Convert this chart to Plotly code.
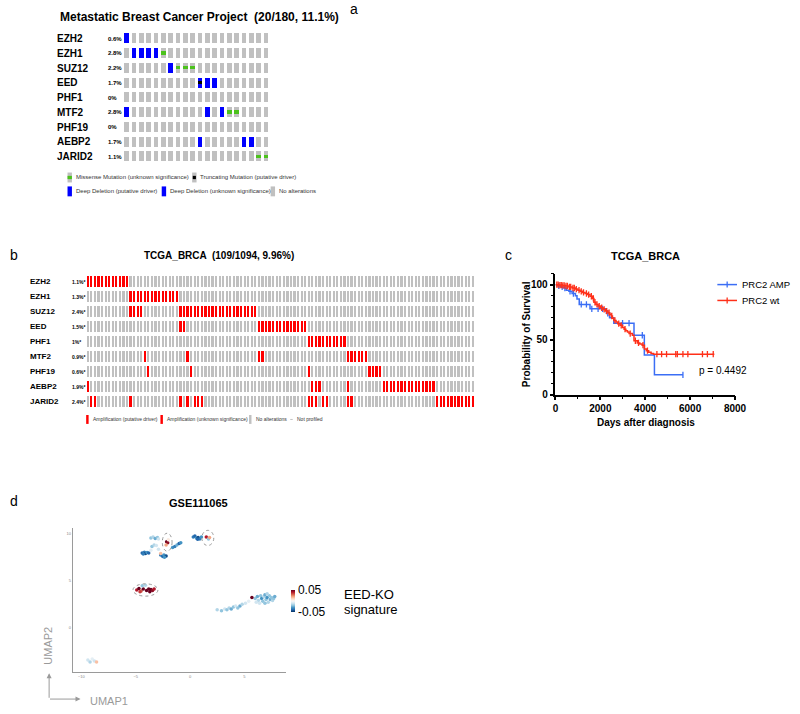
import plotly.graph_objects as go
import numpy as np

W, H = 800, 714
FONT = "Arial, Liberation Sans, Helvetica, sans-serif"


def fx(p):
    return p / W


def fy(p):
    return 1 - p / H


# ---------------- Panel a : Metastatic Breast Cancer Project ----------------
a_genes = ["EZH2", "EZH1", "SUZ12", "EED", "PHF1", "MTF2", "PHF19", "AEBP2", "JARID2"]
a_pct = ["0.6%", "2.8%", "2.2%", "1.7%", "0%", "2.8%", "0%", "1.7%", "1.1%"]
a_n_samples = 20
a_deep_deletion = {"EZH2": [0], "EZH1": [1, 2, 3, 4], "SUZ12": [6], "EED": [10, 11, 12],
                   "MTF2": [0, 11, 13], "AEBP2": [10, 16, 17]}
a_missense = {"EZH1": [5], "SUZ12": [7, 8, 9], "MTF2": [14, 15], "JARID2": [18, 19]}
a_truncating = {"EED": [10]}

# ---------------- Panel b : TCGA_BRCA oncoprint ----------------
b_genes = ["EZH2", "EZH1", "SUZ12", "EED", "PHF1", "MTF2", "PHF19", "AEBP2", "JARID2"]
b_pct = ["1.1%*", "1.3%*", "2.4%*", "1.5%*", "1%*", "0.9%*", "0.6%*", "1.9%*", "2.4%*"]
b_n_samples = 109
b_amplification = {
    "EZH2": [0, 1, 2, 3, 4, 5, 6, 7, 8, 9, 10, 11],
    "EZH1": [12, 13, 14, 15, 16, 17, 18, 19, 20, 21, 22, 23, 24, 25],
    "SUZ12": [12, 13, 14, 15, 26, 27, 28, 29, 30, 31, 32, 33, 34, 35, 36, 37, 38, 39, 40,
              41, 42, 43, 44, 45, 46, 47],
    "EED": [26, 27, 48, 49, 50, 51, 52, 53, 54, 55, 56, 57, 58, 59, 60, 61],
    "PHF1": [62, 63, 64, 65, 66, 67, 68, 69, 70, 71, 72],
    "MTF2": [16, 28, 48, 49, 73, 74, 75, 76, 77, 78],
    "PHF19": [17, 29, 62, 79, 80, 81, 82],
    "AEBP2": [0, 63, 64, 65, 73, 83, 84, 85, 86, 87, 88, 89, 90, 91, 92, 93, 94, 95, 96, 97],
    "JARID2": [1, 2, 12, 26, 28, 30, 31, 32, 62, 63, 64, 66, 67, 73, 74, 98, 99, 100, 101,
               102, 103, 104, 105, 106, 107, 108],
}

# ---------------- Panel c : Kaplan-Meier ----------------
km_groups = ["PRC2 AMP", "PRC2 wt"]
km_amp_time = [0, 90, 230, 380, 480, 600, 740, 890, 960, 1060, 1540, 2270, 2410, 2600,
               3500, 3960, 4410, 5680]
km_amp_surv = [100, 99, 98, 97, 95, 94, 92, 90, 87, 82, 78, 74, 70, 65, 54, 36, 18, 18]
km_amp_censor = [150, 300, 420, 650, 800, 1150, 1380, 1620, 1900, 2100, 2330, 2990, 3280,
                 3870, 5680]

km_wt_time = [0, 150, 300, 450, 600, 750, 900, 1000, 1100, 1200, 1320, 1440, 1540, 1655,
              1713, 1800, 1900, 2000, 2120, 2230, 2340, 2420, 2483, 2540, 2600, 2700, 2773,
              2880, 2990, 3060, 3136, 3210, 3280, 3427, 3500, 3645, 3760, 3862, 3964, 4050,
              4153, 4260, 4370, 7080]
km_wt_surv = [100, 99.6, 99.3, 98.8, 98, 97, 96, 95, 94, 93, 92, 91, 89.5, 87.5, 84, 82,
              80.5, 79, 77.5, 76, 74.5, 73, 71.5, 69.5, 67.5, 66, 64.5, 63, 61, 59.5, 58, 57,
              55.5, 54, 49, 47, 46, 45, 41.5, 40, 38.5, 37.5, 36.8, 36.8]
km_wt_censor = [60, 120, 200, 260, 330, 390, 470, 530, 620, 680, 780, 840, 930, 1050, 1150,
                1250, 1380, 1480, 1600, 1690, 1760, 1850, 1950, 2060, 2170, 2280, 2390, 2510,
                2650, 2820, 2930, 3100, 3330, 3560, 3700, 3900, 4100, 4520, 4730, 4950, 5360,
                5430, 5680, 5900, 6550, 6770, 7030]
km_p_text = "p = 0.4492"

# ---------------- Panel d : UMAP ----------------
umap_x = [-3.6, -3.4, -3.2, -3.0, -2.9, -3.5, -3.3, -3.1, -4.4, -4.2, -4.1, -3.95, -3.8, -4.3,
          -2.7, -2.5, -2.4, -2.2, -2.35, -2.15, -2.05, -2.2, -2.0, -1.6, -1.4, -1.2, -1.0,
          -0.85, -2.9, -2.7, -3.6,
          0.3, 0.45, 0.6, 0.75, 0.9, 1.05, 0.7, 1.5, 1.7, 1.8,
          -4.9, -4.7, -4.5, -4.3, -4.0, -3.8, -3.6, -3.45, -3.3, -4.4, -4.1, -3.7, -4.6,
          2.5, 2.9, 3.2, 3.4, 3.6, 3.8, 4.0, 4.2, 4.4, 4.6, 4.8, 5.1, 5.4,
          6.0, 6.2, 6.3, 6.5, 6.6, 6.7, 6.8, 6.9, 7.0, 7.1, 7.2, 7.3, 7.4, 7.5, 7.6, 7.7, 7.8,
          6.4, 6.9, 7.1, 6.1, 5.7,
          -9.4, -9.2, -9.0, -8.8, -8.6]
umap_y = [9.5, 9.6, 9.45, 9.55, 9.4, 8.6, 8.75, 8.7, 7.9, 8.0, 7.85, 7.95, 7.9, 7.8,
          7.7, 7.55, 7.7, 7.6, 7.45, 9.1, 9.0, 8.75, 9.3, 8.5, 8.6, 8.75, 8.9,
          9.0, 8.3, 7.85, 8.2,
          9.6, 9.7, 9.5, 9.55, 9.4, 9.6, 9.35, 9.6, 9.4, 9.55,
          4.0, 4.15, 3.9, 4.1, 3.95, 4.1, 4.05, 3.95, 4.1, 4.45, 4.5, 3.8, 3.8,
          1.9, 1.8, 2.0, 1.9, 2.1, 2.0, 2.2, 2.3, 2.1, 2.3, 2.5, 2.6, 2.8,
          3.1, 3.3, 2.9, 3.4, 3.1, 2.8, 3.3, 3.5, 3.0, 3.2, 2.7, 3.4, 3.0, 3.2, 2.9, 3.1, 3.3,
          2.6, 2.6, 3.6, 2.7, 3.2,
          -3.4, -3.6, -3.3, -3.5, -3.6]
umap_sig = [-0.02, -0.015, -0.025, -0.02, -0.01, -0.02, -0.015, -0.01, -0.04, -0.035, -0.045,
            -0.03, -0.04, -0.035, -0.035, -0.04, -0.03, -0.045, -0.03, 0.05, 0.045, 0.02,
            0.005, -0.03, -0.035, -0.025, -0.04, -0.03, -0.01, 0.015, -0.005,
            -0.035, -0.04, -0.03, -0.045, -0.035, -0.03, -0.04, 0.04, -0.02, 0.02,
            0.04, 0.05, 0.03, 0.05, 0.05, 0.05, 0.05, 0.045, 0.04, -0.02, -0.015, 0.05, 0.035,
            -0.015, -0.02, -0.01, -0.02, -0.015, -0.025, -0.02, -0.01, -0.02, -0.025, -0.015,
            -0.01, -0.005,
            -0.02, -0.025, -0.015, -0.02, -0.03, -0.02, -0.015, -0.025, -0.02, -0.03, -0.015,
            -0.02, -0.025, -0.02, -0.015, -0.02, -0.025, -0.01, -0.02, -0.015, -0.01, 0.05,
            -0.01, -0.015, -0.005, -0.01, 0.015]
# highlighted groups: (center x, center y, radius x, radius y)
umap_rings = [(-2.1, 9.05, 0.45, 0.95), (1.64, 9.5, 0.55, 0.8), (-4.1, 4.0, 1.15, 0.65)]

# colours
GREY = "#c0c0c0"
BLUE_DEL = "#0000ff"
GREEN_MIS = "#4cc21c"
RED_AMP = "#ff0000"
KM_BLUE = "#3b6ef5"
KM_RED = "#ff3019"

fig = go.Figure()


def onco_bars(genes, cols_by_gene, xa, ya, w, h, color):
    xs, bases = [], []
    for g, cols in cols_by_gene.items():
        r = genes.index(g)
        for c in cols:
            xs.append(c)
            bases.append(r - h / 2)
    return go.Bar(x=xs, y=[h] * len(xs), base=bases, width=w,
                  marker=dict(color=color, line=dict(width=0)),
                  xaxis=xa, yaxis=ya, showlegend=False, hoverinfo="skip")


# panel a bars
a_all = {g: list(range(a_n_samples)) for g in a_genes}
fig.add_trace(onco_bars(a_genes, a_all, "x", "y", 0.63, 0.67, GREY))
fig.add_trace(onco_bars(a_genes, a_deep_deletion, "x", "y", 0.63, 0.67, BLUE_DEL))
fig.add_trace(onco_bars(a_genes, a_missense, "x", "y", 0.63, 0.22, GREEN_MIS))
fig.add_trace(onco_bars(a_genes, a_truncating, "x", "y", 0.45, 0.22, "#000000"))

# panel b bars
b_all = {g: list(range(b_n_samples)) for g in b_genes}
fig.add_trace(onco_bars(b_genes, b_all, "x2", "y2", 0.62, 0.68, GREY))
fig.add_trace(onco_bars(b_genes, b_amplification, "x2", "y2", 0.62, 0.68, RED_AMP))


# panel c KM curves
def surv_at(times, survs, t):
    idx = np.searchsorted(np.array(times), t, side="right") - 1
    return survs[max(idx, 0)]


km_series = [(km_amp_time, km_amp_surv, km_amp_censor, KM_BLUE),
             (km_wt_time, km_wt_surv, km_wt_censor, KM_RED)]
for tt, ss, cc, col in km_series:
    fig.add_trace(go.Scatter(x=tt, y=ss, mode="lines", line=dict(color=col, width=1.5, shape="hv"),
                             xaxis="x3", yaxis="y3", showlegend=False, hoverinfo="skip"))
    fig.add_trace(go.Scatter(x=cc, y=[surv_at(tt, ss, t) for t in cc], mode="markers",
                             marker=dict(symbol="line-ns-open", size=4.5, color=col,
                                         line=dict(color=col, width=1.3)),
                             xaxis="x3", yaxis="y3", showlegend=False, hoverinfo="skip"))

# panel d UMAP
fig.add_trace(go.Scatter(
    x=umap_x, y=umap_y, mode="markers", xaxis="x4", yaxis="y4", showlegend=False,
    hoverinfo="skip",
    marker=dict(size=3.5, color=umap_sig, colorscale="RdBu_r", cmin=-0.05, cmax=0.05,
                line=dict(width=0),
                colorbar=dict(thickness=4, len=22, lenmode="pixels", x=fx(293), xanchor="left",
                              y=fy(606), yanchor="middle", tickvals=[-0.05, 0.05],
                              ticktext=["-0.05", "0.05"], ticks="", outlinewidth=0,
                              xpad=0, ypad=0, tickfont=dict(size=12, family=FONT, color="black"))),
))

shapes = []
for cx, cy, rx, ry in umap_rings:
    shapes.append(dict(type="circle", xref="x4", yref="y4", x0=cx - rx, x1=cx + rx,
                       y0=cy - ry, y1=cy + ry, line=dict(color="#999999", width=1, dash="dot")))


def icon(xc, yc, w, h, color):
    shapes.append(dict(type="rect", xref="paper", yref="paper", x0=fx(xc - w / 2), x1=fx(xc + w / 2),
                       y0=fy(yc + h / 2), y1=fy(yc - h / 2), fillcolor=color, line=dict(width=0)))


def seg(x0, y0, x1, y1, color, width):
    shapes.append(dict(type="line", xref="paper", yref="paper", x0=fx(x0), x1=fx(x1),
                       y0=fy(y0), y1=fy(y1), line=dict(color=color, width=width)))


# panel a legend icons
icon(68, 179, 4.5, 10, GREY)
icon(68, 179, 4.5, 3.3, GREEN_MIS)
icon(195, 179, 4.5, 10, GREY)
icon(195, 179, 3.2, 3.3, "#000000")
icon(68, 193, 4.5, 10, BLUE_DEL)
icon(164, 193, 4.5, 10, BLUE_DEL)
icon(275, 193, 4.5, 10, GREY)
# panel b legend icons
icon(86, 423, 2.5, 9, RED_AMP)
icon(161.7, 423, 2.5, 9, RED_AMP)
icon(252, 423, 2.5, 9, GREY)
icon(294, 423, 2.5, 1, GREY)
# panel c legend glyphs
for ly, col in [(287, KM_BLUE), (303, KM_RED)]:
    seg(728, ly, 748, ly, col, 1.5)
    seg(738, ly - 3, 738, ly + 3, col, 1.3)

annotations = []


def ann(text, x, y, size, xanchor="left", color="black", angle=0, xref="paper", yref="paper",
        yanchor="middle"):
    annotations.append(dict(text=text, x=x, y=y, xref=xref, yref=yref, showarrow=False,
                            xanchor=xanchor, yanchor=yanchor, textangle=angle,
                            font=dict(size=size, color=color, family=FONT)))


# panel labels & titles
ann("a", fx(352), fy(9), 14)
ann("<b>Metastatic Breast Cancer Project &nbsp;(20/180, 11.1%)</b>", fx(200), fy(17), 12, "center")
ann("b", fx(5), fy(257), 14)
ann("<b>TCGA_BRCA &nbsp;(109/1094, 9.96%)</b>", fx(220), fy(258), 10, "center")
ann("c", fx(510), fy(257), 14)
ann("<b>TCGA_BRCA</b>", fx(655), fy(258), 11, "center")
ann("d", fx(5), fy(505), 14)
ann("<b>GSE111065</b>", fx(199), fy(507), 11, "center")

for i, g in enumerate(a_genes):
    ann("<b>%s</b>" % g, fx(53), i, 10, yref="y")
    ann("<b>%s</b>" % a_pct[i], fx(105), i, 6, yref="y")
for i, g in enumerate(b_genes):
    ann("<b>%s</b>" % g, fx(25), i, 8, yref="y2")
    ann("<b>%s</b>" % b_pct[i], fx(68), i, 5, yref="y2")

LG = "#333333"
ann("Missense Mutation (unknown significance)", fx(72.5), fy(179), 6, color=LG)
ann("Truncating Mutation (putative driver)", fx(199), fy(179), 6, color=LG)
ann("Deep Deletion (putative driver)", fx(72.5), fy(193), 6, color=LG)
ann("Deep Deletion (unknown significance)", fx(168.5), fy(193), 6, color=LG)
ann("No alterations", fx(279), fy(193), 6, color=LG)
ann("Amplification (putative driver)", fx(89.5), fy(423), 5, color=LG)
ann("Amplification (unknown significance)", fx(165), fy(423), 5, color=LG)
ann("No alterations", fx(255.5), fy(423), 5, color=LG)
ann("Not profiled", fx(298), fy(423), 5, color=LG)

# panel c texts
ann(km_groups[0], fx(751), fy(287), 9.5)
ann(km_groups[1], fx(751), fy(303), 9.5)
ann("<b>Probability of Survival</b>", fx(533), fy(337), 10, "center", angle=-90)
ann("<b>Days after diagnosis</b>", fx(655), fy(426), 10, "center")
ann(km_p_text, 6300, 21.6, 10, xref="x3", yref="y3")

# panel d texts
ann("EED-KO", fx(345), fy(600), 13)
ann("signature", fx(345), fy(615), 13)
ann("UMAP1", fx(87), fy(707), 11, color="#9a9a9a")
ann("UMAP2", fx(45), fy(651), 11, "center", color="#9a9a9a", angle=-90)
annotations.append(dict(x=fx(47), y=fy(679), ax=0, ay=26, xref="paper", yref="paper",
                        showarrow=True, arrowhead=2, arrowsize=1, arrowwidth=1,
                        arrowcolor="#9a9a9a", text=""))
annotations.append(dict(x=fx(79), y=fy(705), ax=-32, ay=0, xref="paper", yref="paper",
                        showarrow=True, arrowhead=2, arrowsize=1, arrowwidth=1,
                        arrowcolor="#9a9a9a", text=""))

hidden = dict(visible=False, showgrid=False, zeroline=False)
bold10 = dict(size=10, family=FONT, color="black", weight="bold")

fig.update_layout(
    width=W, height=H, margin=dict(l=0, r=0, t=0, b=0),
    paper_bgcolor="white", plot_bgcolor="white",
    barmode="overlay", bargap=0,
    font=dict(family=FONT),
    showlegend=False,
    xaxis=dict(domain=[fx(122.3), fx(271.7)], range=[-0.5, 19.5], anchor="y", **hidden),
    yaxis=dict(domain=[fy(165.4), fy(31.6)], range=[8.5, -0.5], anchor="x", **hidden),
    xaxis2=dict(domain=[fx(85), fx(481)], range=[-0.5, 108.5], anchor="y2", **hidden),
    yaxis2=dict(domain=[fy(412.6), fy(276.4)], range=[8.5, -0.5], anchor="x2", **hidden),
    xaxis3=dict(domain=[fx(563), fx(746)], range=[0, 8000], anchor="y3", showgrid=False,
                zeroline=False, showline=True, linecolor="black", linewidth=1.5,
                ticks="outside", ticklen=4, tickwidth=1.5, tickcolor="black",
                tickvals=[0, 2000, 4000, 6000, 8000], tickfont=bold10,
                minor=dict(ticks="outside", ticklen=2.5, tickwidth=1, dtick=1000,
                           tickcolor="black")),
    yaxis3=dict(domain=[fy(398), fy(276)], range=[0, 110], anchor="x3", showgrid=False,
                zeroline=False, showline=True, linecolor="black", linewidth=1.5,
                ticks="outside", ticklen=4, tickwidth=1.5, tickcolor="black",
                tickvals=[0, 50, 100], tickfont=bold10,
                minor=dict(ticks="outside", ticklen=2.5, tickwidth=1, dtick=10,
                           tickcolor="black")),
    xaxis4=dict(domain=[fx(71), fx(288)], range=[-10.8, 8.8], anchor="y4", showgrid=False,
                zeroline=False, showline=True, linecolor="#9a9a9a", linewidth=1, ticks="",
                tickvals=[-10, -5, 0, 5], tickfont=dict(size=4, color="#888888")),
    yaxis4=dict(domain=[fy(678), fy(532)], range=[-4.7, 10.6], anchor="x4", showgrid=False,
                zeroline=False, showline=True, linecolor="#9a9a9a", linewidth=1, ticks="",
                tickvals=[0, 5, 10], tickfont=dict(size=4, color="#888888")),
    shapes=shapes,
    annotations=annotations,
)

fig.write_html(
    "out.html",
    config={"displayModeBar": False},
    post_script="document.body.style.margin='0px';document.body.style.overflow='hidden';",
)
